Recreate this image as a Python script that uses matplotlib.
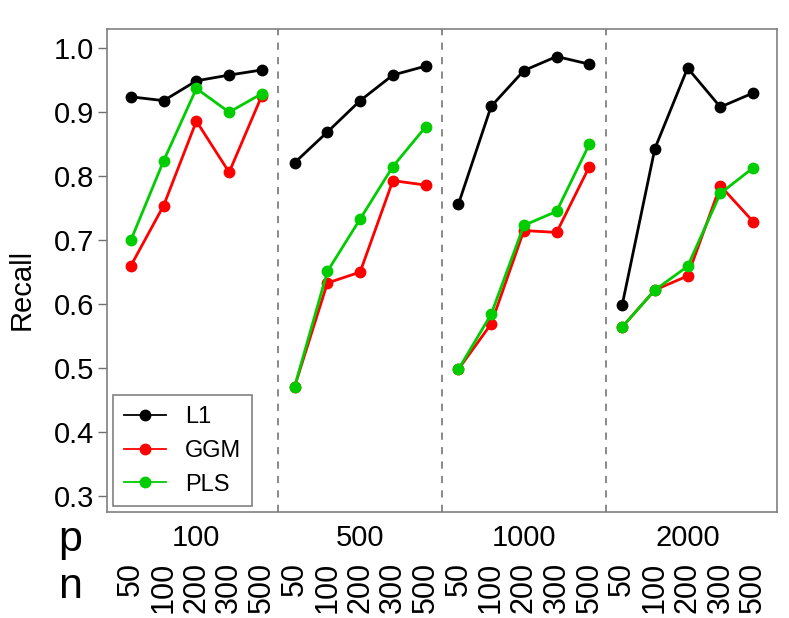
import numpy as np
import matplotlib.pyplot as plt

plt.rcParams['font.family'] = ['Liberation Sans', 'DejaVu Sans']

p_values = ['100', '500', '1000', '2000']
n_values = ['50', '100', '200', '300', '500']

# recall per (p, n), groups of 5 in p order
l1 = [0.924, 0.918, 0.949, 0.958, 0.966,
      0.821, 0.869, 0.918, 0.958, 0.972,
      0.756, 0.909, 0.965, 0.987, 0.975,
      0.598, 0.843, 0.969, 0.908, 0.930]
ggm = [0.660, 0.754, 0.886, 0.806, 0.926,
       0.471, 0.633, 0.650, 0.793, 0.786,
       0.498, 0.569, 0.715, 0.712, 0.815,
       0.564, 0.622, 0.644, 0.785, 0.729]
pls = [0.700, 0.824, 0.937, 0.900, 0.929,
       0.471, 0.651, 0.733, 0.815, 0.877,
       0.498, 0.584, 0.723, 0.745, 0.850,
       0.564, 0.622, 0.659, 0.773, 0.813]

series = [('L1', l1, 'black'), ('GGM', ggm, '#FF0000'), ('PLS', pls, '#00CD00')]

fig = plt.figure(figsize=(7.89, 6.18), dpi=100)
ax = fig.add_axes([107 / 789, 1 - 512 / 618, 670 / 789, 483 / 618])

ng = len(n_values)
for name, vals, col in series:
    for g in range(len(p_values)):
        x = np.arange(g * ng + 1, g * ng + ng + 1)
        ax.plot(x, vals[g * ng:(g + 1) * ng], '-o', color=col, lw=2, ms=7.5,
                label=name if g == 0 else None)

for g in range(1, len(p_values)):
    ax.axvline(g * ng + 0.5, color='#808080', lw=1.3, ls=(0, (4, 4)))

ax.set_xlim(0.27, 20.73)
ax.set_ylim(0.275, 1.03)
ax.set_yticks(np.arange(0.3, 1.01, 0.1))
ax.set_yticklabels(['%.1f' % v for v in np.arange(0.3, 1.01, 0.1)])
ax.set_xticks([])
ax.tick_params(axis='y', labelsize=21, length=6.5, width=1, color='#707070', pad=3)
for s in ax.spines.values():
    s.set_color('#808080')
    s.set_linewidth(1.2)

tr = ax.get_xaxis_transform()
for g, p in enumerate(p_values):
    ax.text(g * ng + 3, -0.054, p, transform=tr, ha='center', va='center',
            fontsize=21)
    for i, n in enumerate(n_values):
        ax.text(g * ng + i + 1, -0.1035, n, transform=tr, ha='center', va='top',
                rotation=90, fontsize=22)

fig.text(0.0887, 0.108, 'p', ha='center', va='baseline', fontsize=31)
fig.text(0.0887, 0.032, 'n', ha='center', va='baseline', fontsize=31)
fig.text(0.028, 0.532, 'Recall', rotation=90, ha='center', va='center', fontsize=21)

leg = ax.legend(loc='lower left', bbox_to_anchor=(0.009, 0.012), borderaxespad=0,
                fontsize=17, fancybox=False, edgecolor='#808080', framealpha=1,
                handlelength=1.8, handletextpad=0.8, labelspacing=0.5,
                borderpad=0.45)
leg.get_frame().set_linewidth(1.2)
for h in leg.get_lines():
    h.set_linewidth(1.3)

fig.savefig('out.png', dpi=100)
